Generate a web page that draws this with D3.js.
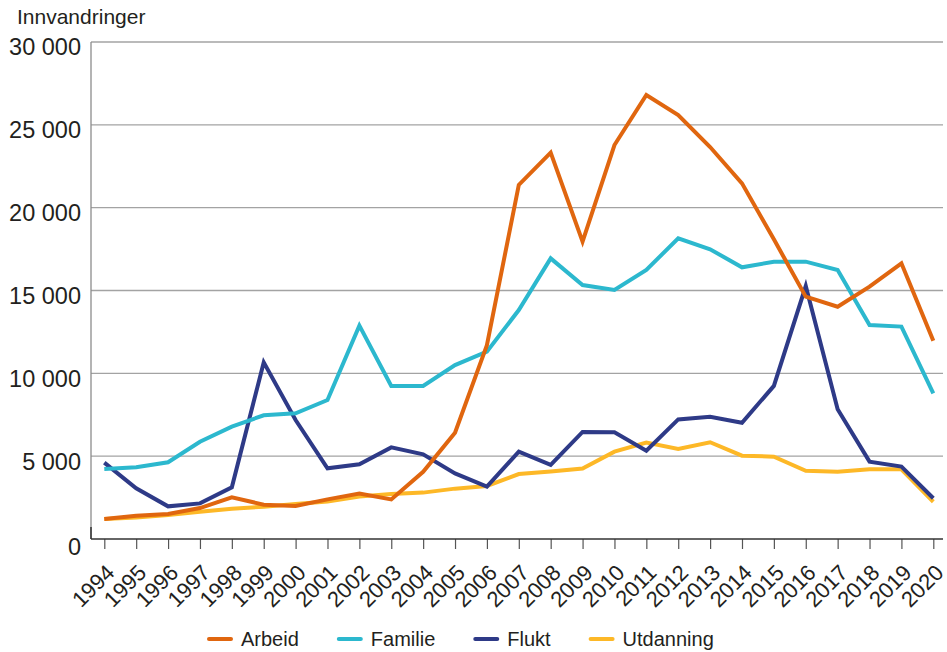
<!DOCTYPE html>
<html>
<head>
<meta charset="utf-8">
<script src="https://cdn.jsdelivr.net/npm/d3@7"></script>
<style>
  body { margin: 0; background: #fff; }
  text { font-family: "Liberation Sans", Arial, sans-serif; fill: #231f20; }
</style>
</head>
<body>
<svg id="chart" width="947" height="652"></svg>
<script>
var years = [1994,1995,1996,1997,1998,1999,2000,2001,2002,2003,2004,2005,2006,2007,2008,2009,2010,2011,2012,2013,2014,2015,2016,2017,2018,2019,2020];
var arbeid = [1210,1410,1510,1870,2520,2070,1990,2390,2740,2390,4060,6420,11700,21370,23320,17950,23780,26800,25590,23660,21470,18090,14630,14020,15230,16640,11970];
var familie = [4230,4330,4630,5870,6780,7470,7590,8390,12880,9240,9240,10500,11310,13820,16940,15330,15030,16240,18150,17490,16400,16740,16740,16240,12920,12820,8790];
var flukt = [4610,3060,1970,2150,3120,10660,7180,4270,4510,5530,5110,3960,3160,5270,4470,6460,6440,5330,7220,7380,7020,9240,15270,7830,4670,4370,2460];
var utdanning = [1200,1300,1450,1650,1830,1950,2110,2270,2560,2720,2800,3040,3200,3920,4080,4250,5270,5820,5430,5840,5030,4970,4120,4060,4210,4210,2250];
var yTicks = [0,5000,10000,15000,20000,25000,30000];
var legendNames = ["Arbeid","Familie","Flukt","Utdanning"];

var colors = {Arbeid: "#e0660f", Familie: "#2cb8ce", Flukt: "#2e3a87", Utdanning: "#fdb827"};
var seriesData = {Arbeid: arbeid, Familie: familie, Flukt: flukt, Utdanning: utdanning};
// drawing order (last on top)
var drawOrder = ["Utdanning","Flukt","Familie","Arbeid"];

var svg = d3.select("#chart");
var plotLeft = 91, plotRight = 943, plotTop = 42, plotBottom = 539;

var x = d3.scaleLinear().domain([1994, 2020]).range([104.3, 933.3]);
var y = d3.scaleLinear().domain([0, 30000]).range([plotBottom, plotTop]);
var fmt = function(v){ return d3.format(",")(v).replace(/,/g, " "); };

// gridlines
svg.append("g").selectAll("line")
    .data(yTicks.filter(function(d){ return d > 0; }))
    .enter().append("line")
    .attr("x1", plotLeft).attr("x2", plotRight)
    .attr("y1", function(d){ return y(d); })
    .attr("y2", function(d){ return y(d); })
    .attr("stroke", "#a3a3a3")
    .attr("stroke-width", 1.3);

// y axis line
svg.append("line")
    .attr("x1", plotLeft).attr("x2", plotLeft)
    .attr("y1", plotTop).attr("y2", plotBottom)
    .attr("stroke", "#8c8c8c").attr("stroke-width", 1.3);
svg.append("line")
    .attr("x1", plotLeft).attr("x2", plotLeft)
    .attr("y1", plotBottom - 12).attr("y2", plotBottom)
    .attr("stroke", "#333").attr("stroke-width", 1.5);

// y tick labels
svg.append("g").selectAll("text")
    .data(yTicks)
    .enter().append("text")
    .attr("x", 81)
    .attr("y", function(d){ return y(d) + (d === 0 ? 8 : 5); })
    .attr("dy", "0.36em")
    .attr("text-anchor", "end")
    .style("font-size", "23.5px")
    .text(fmt);

svg.append("text")
    .attr("x", 17).attr("y", 24)
    .style("font-size", "21px")
    .text("Innvandringer");

// x axis
var xAxis = d3.axisBottom(x)
    .tickValues(years)
    .tickSize(10)
    .tickFormat(d3.format("d"));
var gx = svg.append("g")
    .attr("transform", "translate(0," + plotBottom + ")")
    .call(xAxis);
gx.select(".domain").remove();
gx.append("line")
    .attr("x1", plotLeft).attr("x2", plotRight)
    .attr("stroke", "#333").attr("stroke-width", 1.6);
gx.selectAll(".tick line").attr("stroke", "#555").attr("stroke-width", 1.2);
gx.selectAll(".tick text")
    .attr("x", 0).attr("y", 0).attr("dy", 0)
    .attr("text-anchor", "end")
    .attr("transform", "translate(11,35) rotate(-45)")
    .style("font-size", "22px")
    .style("font-family", "'Liberation Sans', Arial, sans-serif")
    .attr("fill", "#231f20");

// lines
var line = d3.line()
    .x(function(d, i){ return x(years[i]); })
    .y(function(d){ return y(d); });

svg.append("g").selectAll("path")
    .data(drawOrder)
    .enter().append("path")
    .attr("d", function(name){ return line(seriesData[name]); })
    .attr("fill", "none")
    .attr("stroke", function(name){ return colors[name]; })
    .attr("stroke-width", 4)
    .attr("stroke-linejoin", "miter")
    .attr("stroke-miterlimit", 4);

// legend
var legend = svg.append("g").attr("transform", "translate(209,639)");
var lx = 0;
legendNames.forEach(function(name){
    var item = legend.append("g").attr("transform", "translate(" + lx + ",0)");
    item.append("line")
        .attr("x1", 0).attr("x2", 22)
        .attr("stroke", colors[name])
        .attr("stroke-width", 4)
        .attr("stroke-linecap", "round");
    var t = item.append("text")
        .attr("x", 32).attr("y", 0)
        .attr("dy", "0.36em")
        .style("font-size", "20px")
        .text(name);
    lx += 32 + t.node().getComputedTextLength() + 40;
});
</script>
</body>
</html>
